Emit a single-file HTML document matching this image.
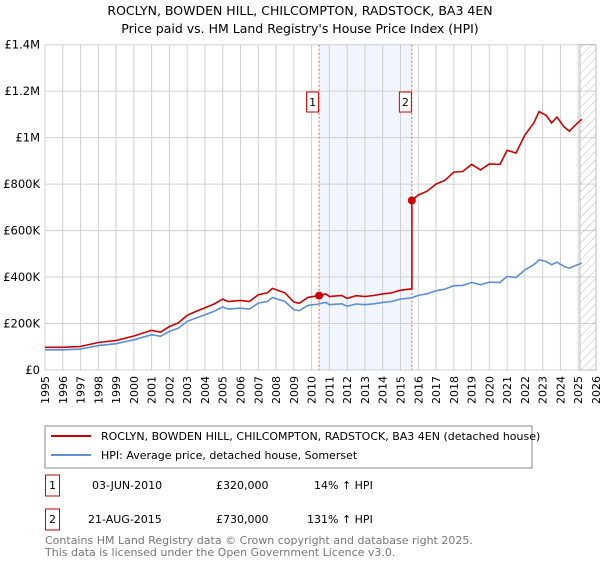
<!DOCTYPE html>
<html><head><meta charset="utf-8"><style>
body{margin:0;background:#fff;font-family:"Liberation Sans","DejaVu Sans",sans-serif;}
svg text{font-family:"DejaVu Sans","Liberation Sans",sans-serif;}
</style></head><body>
<svg id="c" width="600" height="560" xmlns="http://www.w3.org/2000/svg">
<defs><pattern id="hatch" width="6" height="6" patternUnits="userSpaceOnUse" patternTransform="rotate(45)"><line x1="0" y1="0" x2="0" y2="6" stroke="#bbb" stroke-width="1"/></pattern></defs>
<text x="300" y="15" text-anchor="middle" font-size="12.5">ROCLYN, BOWDEN HILL, CHILCOMPTON, RADSTOCK, BA3 4EN</text>
<text x="300" y="33" text-anchor="middle" font-size="12.5">Price paid vs. HM Land Registry's House Price Index (HPI)</text>
<g id="plot"></g>
<rect x="45" y="426" width="487" height="42" fill="none" stroke="#888"/>
<line x1="51" y1="436" x2="91" y2="436" stroke="#cc0000" stroke-width="2"/>
<text x="101" y="440" font-size="11">ROCLYN, BOWDEN HILL, CHILCOMPTON, RADSTOCK, BA3 4EN (detached house)</text>
<line x1="51" y1="455" x2="91" y2="455" stroke="#5b8fd6" stroke-width="2"/>
<text x="101" y="459" font-size="11">HPI: Average price, detached house, Somerset</text>
<g font-size="11">
<rect x="45.5" y="475" width="14" height="21" fill="none" stroke="#cc0000"/>
<text x="52.5" y="489" text-anchor="middle">1</text>
<text x="92" y="489">03-JUN-2010</text>
<text x="216" y="489">£320,000</text>
<text x="314" y="489">14% ↑ HPI</text>
<rect x="45.5" y="509" width="14" height="21" fill="none" stroke="#cc0000"/>
<text x="52.5" y="523" text-anchor="middle">2</text>
<text x="88" y="523">21-AUG-2015</text>
<text x="216" y="523">£730,000</text>
<text x="307" y="523">131% ↑ HPI</text>
</g>
<text x="45" y="544" font-size="11" fill="#777">Contains HM Land Registry data © Crown copyright and database right 2025.</text>
<text x="45" y="556" font-size="11" fill="#777">This data is licensed under the Open Government Licence v3.0.</text>
</svg>
<script>
const yearTicks=[1995,1996,1997,1998,1999,2000,2001,2002,2003,2004,2005,2006,2007,2008,2009,2010,2011,2012,2013,2014,2015,2016,2017,2018,2019,2020,2021,2022,2023,2024,2025,2026];
const valueTicks=[0,200000,400000,600000,800000,1000000,1200000,1400000];
const valueLabels=["£0","£200K","£400K","£600K","£800K","£1M","£1.2M","£1.4M"];
const hpiDates=[1995,1996,1997,1998,1999,2000,2001,2001.5,2002,2002.5,2003,2003.5,2004,2004.5,2005,2005.3,2006,2006.5,2007,2007.5,2007.8,2008.5,2009,2009.3,2009.8,2010.4,2010.8,2011,2011.7,2012,2012.5,2013,2013.5,2014,2014.5,2015,2015.6,2016,2016.5,2017,2017.5,2018,2018.5,2019,2019.5,2020,2020.6,2021,2021.5,2022,2022.5,2022.8,2023.2,2023.5,2023.8,2024.2,2024.5,2024.8,2025.2];
const hpiValues=[87000,87000,90000,105000,113000,130000,152000,145000,166000,180000,209000,224000,238000,252000,271000,262000,266000,262000,288000,295000,312000,295000,260000,255000,278000,284000,291000,281000,285000,274000,284000,281000,285000,291000,295000,305000,310000,321000,328000,341000,348000,363000,364000,377000,367000,378000,377000,403000,398000,431000,453000,474000,467000,453000,464000,446000,438000,448000,460000];
const saleDates=[2010.42,2015.64];
const salePrices=[320000,730000];
const saleLabels=["1","2"];
const NS="http://www.w3.org/2000/svg";
const X0=45,X1=596,Y0=370,Y1=44.7;
const xs=d=>X0+(d-1995)/31*(X1-X0);
const ys=v=>Y0-v/1400000*(Y0-Y1);
const g=document.getElementById('plot');
function mk(t,a){const e=document.createElementNS(NS,t);for(const k in a)e.setAttribute(k,a[k]);g.appendChild(e);return e;}
function hpiAt(d){for(let i=1;i<hpiDates.length;i++){if(d<=hpiDates[i]){const t=(d-hpiDates[i-1])/(hpiDates[i]-hpiDates[i-1]);return hpiValues[i-1]+t*(hpiValues[i]-hpiValues[i-1]);}}return hpiValues[hpiValues.length-1];}
let e;
e=mk('rect',{x:xs(saleDates[0]),y:Y1,width:xs(saleDates[1])-xs(saleDates[0]),height:Y0-Y1,fill:'#eef3fc',opacity:0.8});


yearTicks.forEach(y=>{
 e=mk('line',{x1:xs(y),x2:xs(y),y1:Y1,y2:Y0,stroke:'#d0d0d0'});
 
 
 e=mk('text',{x:0,y:0,'font-size':11,'text-anchor':'end',transform:`translate(${xs(y)+4},${Y0+6}) rotate(-90)`});
 e.textContent=y;
 
 
});
valueTicks.forEach((v,i)=>{
 e=mk('line',{x1:X0,x2:X1,y1:ys(v),y2:ys(v),stroke:'#d0d0d0'});
 
 
 e=mk('text',{x:40,y:ys(v)+4,'font-size':11.5,'text-anchor':'end'});
 e.textContent=valueLabels[i];
 
 
});
const hx=xs(2025.1);
e=mk('rect',{x:hx,y:Y1,width:X1-hx,height:Y0-Y1,fill:'url(#hatch)',stroke:'#bbb'});


saleDates.forEach((d,i)=>{
 e=mk('line',{x1:xs(d),x2:xs(d),y1:Y1,y2:Y0,stroke:'#e06060','stroke-dasharray':'2,2'});
 
 
 e=mk('rect',{x:xs(d)-12.5,y:92,width:12,height:20,fill:'#fff',stroke:'#cc0000'});
 
 
 e=mk('text',{x:xs(d)-6.5,y:106,'font-size':11,'text-anchor':'middle'});
 e.textContent=saleLabels[i];
 
 
});
// HPI line
let p=hpiDates.map((d,i)=>(i?'L':'M')+xs(d).toFixed(1)+','+ys(hpiValues[i]).toFixed(1)).join('');
e=mk('path',{d:p,fill:'none',stroke:'#5b8fd6','stroke-width':1.6});


// property line: HPI scaled by latest sale ratio
const r1=salePrices[0]/hpiAt(saleDates[0]), r2=salePrices[1]/hpiAt(saleDates[1]);
let pts=[];
hpiDates.forEach((d,i)=>{if(d<saleDates[1])pts.push([d,hpiValues[i]*r1]);});
pts.push([saleDates[1],hpiAt(saleDates[1])*r1]);
pts.push([saleDates[1],salePrices[1]]);
hpiDates.forEach((d,i)=>{if(d>saleDates[1])pts.push([d,hpiValues[i]*r2]);});
p=pts.map((q,i)=>(i?'L':'M')+xs(q[0]).toFixed(1)+','+ys(q[1]).toFixed(1)).join('');
e=mk('path',{d:p,fill:'none',stroke:'#cc0000','stroke-width':1.6});


saleDates.forEach((d,i)=>{
 e=mk('circle',{cx:xs(d),cy:ys(salePrices[i]),r:4,fill:'#cc0000'});
 
 
});
</script>
</body></html>
